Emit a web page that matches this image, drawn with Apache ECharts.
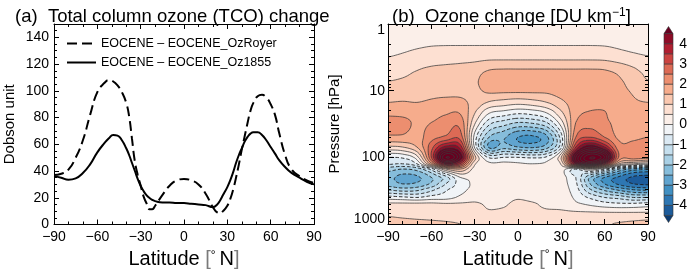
<!DOCTYPE html>
<html><head><meta charset="utf-8"><title>Ozone change</title>
<script src="https://cdn.jsdelivr.net/npm/echarts@6.0.0/dist/echarts.min.js"></script>
<style>html,body{margin:0;padding:0;background:#fff;overflow:hidden}#chart{width:698px;height:275px}</style>
</head><body><div id="chart"></div>
<script>
// ---------------- Panel (a) data: total column ozone change ----------------
const TCO_LAT = [-90,-85,-80,-75,-70,-65,-60,-55,-52,-49,-46,-43,-40,-38,-36,-34,-32,-30,-28,-26,-24,-22,-20,-15,-10,-5,0,5,10,15,20,23,25,27,30,32,34,36,38,40,42,44,46,48,51,54,57,60,63,66,70,74,80,85,90];
const TCO_ROYER = [37,38,41,50,63,82,99,106,108,107,104,99,91,81,64,47,37,29,21,16,11.5,11.5,14,22,29,33,34,33,30,23,13,9,8.5,10,14,19,26,35,45,56,66,76,85,91,96,97,95,90,82,68,52,42,36,33,31];
const TCO_1855 = [36,35,33.5,34.5,38.5,45,54,61,64.5,67,66.5,63,57,52,46,40,34,29,25,22,20,18.5,17.5,16.5,16.5,16,16,15.5,15,14.5,13,15,18,22,28,33,39,46,52,57,62,65.5,68,69,69,67,63,58,53,48,43,39,35,32,30];
const NAME_ROYER = 'EOCENE \u2013 EOCENE_OzRoyer';
const NAME_1855 = 'EOCENE \u2013 EOCENE_Oz1855';

// ---------------- Panel (b) data: ozone change [DU/km] ----------------
const LAT = [-90,-80,-70,-60,-50,-40,-30,-20,-10,0,10,20,30,40,50,60,70,80,90];
const PLEV = [1,2,3,5,7,10,15,20,30,50,70,100,125,150,200,250,300,400,500,700,850,1000];
const O3 = [
 [0.25,0.27,0.3,0.3,0.3,0.3,0.3,0.3,0.3,0.3,0.3,0.3,0.3,0.3,0.3,0.3,0.3,0.27,0.25],
 [0.33,0.37,0.42,0.46,0.47,0.47,0.47,0.47,0.47,0.47,0.47,0.47,0.47,0.47,0.47,0.46,0.42,0.37,0.33],
 [0.48,0.55,0.65,0.72,0.75,0.77,0.78,0.8,0.8,0.8,0.8,0.8,0.8,0.8,0.8,0.78,0.68,0.58,0.5],
 [0.78,0.85,1.0,1.1,1.15,1.2,1.3,1.52,1.56,1.56,1.56,1.56,1.56,1.56,1.56,1.53,1.35,1.1,0.85],
 [0.98,1.05,1.15,1.25,1.3,1.35,1.45,1.65,1.7,1.7,1.7,1.7,1.75,1.75,1.75,1.7,1.55,1.3,1.0],
 [1.25,1.3,1.35,1.4,1.4,1.4,1.4,1.6,1.6,1.6,1.6,1.6,1.7,1.7,1.75,1.7,1.6,1.45,1.3],
 [1.5,1.52,1.5,1.55,1.6,1.6,1.35,0.95,0.8,0.7,0.8,1.0,1.4,1.7,1.8,1.8,1.7,1.55,1.5],
 [1.7,1.7,1.7,1.8,1.9,1.9,1.1,0.2,0.0,-0.2,-0.1,0.2,1.0,1.8,2.0,2.0,1.75,1.7,1.7],
 [2.3,2.2,1.9,2.0,2.2,2.3,0.6,-0.8,-1.2,-1.5,-1.4,-1.0,0.3,2.0,2.3,2.1,1.85,1.8,1.85],
 [1.9,1.9,1.8,2.3,2.6,2.8,-0.2,-2.0,-2.4,-3.0,-3.1,-2.6,-0.7,2.5,3.0,2.5,1.9,1.9,2.0],
 [0.9,1.0,1.5,2.8,4.2,3.8,-0.1,-2.6,-2.2,-2.5,-2.6,-2.2,-0.6,3.5,5.0,4.0,2.2,2.2,2.4],
 [-0.5,-0.4,0.3,3.0,6.5,5.0,1.2,-0.6,-0.5,-0.5,-0.6,-0.4,1.0,5.5,7.5,6.5,2.4,2.3,2.2],
 [-0.9,-1.0,-0.5,1.8,4.5,3.5,0.6,0.1,0.1,0.05,0.0,0.1,0.6,4.5,6.0,4.0,1.0,0.5,0.2],
 [-1.8,-2.0,-1.8,-0.8,1.0,1.5,0.3,0.2,0.2,0.2,0.2,0.2,0.2,-0.5,0.5,-0.5,-2.0,-2.7,-2.9],
 [-2.3,-2.7,-2.6,-2.0,-1.2,0.0,0.1,0.2,0.2,0.2,0.2,0.2,0.15,-0.5,-2.0,-3.0,-3.6,-4.1,-4.2],
 [-2.2,-2.5,-2.4,-1.9,-1.0,-0.3,0.1,0.2,0.2,0.2,0.2,0.2,0.15,-0.4,-2.0,-3.0,-3.6,-4.0,-4.1],
 [-1.6,-1.8,-1.7,-1.2,-0.6,-0.2,0.15,0.2,0.2,0.25,0.2,0.2,0.2,-0.3,-1.5,-2.2,-2.7,-3.1,-3.2],
 [-0.3,-0.4,-0.5,-0.3,-0.2,0.1,0.35,0.3,0.35,0.45,0.35,0.3,0.3,-0.1,-0.6,-1.0,-1.2,-1.5,-1.5],
 [0.6,0.6,0.6,0.6,0.55,0.55,0.55,0.45,0.45,0.6,0.55,0.4,0.35,0.1,-0.1,-0.3,-0.4,-0.4,-0.3],
 [0.9,0.85,0.8,0.75,0.7,0.65,0.6,0.55,0.6,0.65,0.6,0.6,0.6,0.6,0.6,0.6,0.6,0.6,0.6],
 [1.1,1.05,1.0,0.95,0.9,0.85,0.8,0.8,0.8,0.8,0.8,0.75,0.75,0.75,0.8,0.85,0.85,0.9,0.95],
 [1.4,1.35,1.3,1.2,1.1,1.0,0.9,0.8,0.85,0.9,0.85,0.8,0.8,0.8,0.9,0.95,1.05,1.15,1.25]
];
// colour classes (boundaries) and contour levels
const BOUNDS = [-4.5,-4,-3.5,-3,-2.5,-2,-1.5,-1,-0.5,0,0.5,1,1.5,2,2.5,3,3.5,4,4.5];
const COLORS = ['#0c3c72','#1d5c9b','#2e77b3','#4190c2','#60a4cf','#86bddb','#a9d0e5','#c5dfee','#dbe9f3','#f1f4f7',
                '#fbefe9','#fde0d2','#fac8b0','#f6ac8c','#ec8e6f','#dc6a55','#cb4340','#b01e30','#8e0c27','#680020'];
const CLEVELS = [-5,-4.5,-4,-3.5,-3,-2.5,-2,-1.5,-1,-0.5,0,0.5,1,1.5,2,2.5,3,3.5,4,4.5,5,5.5,6,6.5,7,7.5];
const CB_LABELS = [-4,-3,-2,-1,0,1,2,3,4];
const P_MINOR = [2,3,4,5,6,7,8,9,20,30,40,50,60,70,80,90,200,300,400,500,600,700,800,900];

// ---------------- helpers ----------------
const FONT = '"Liberation Sans", Arial, Helvetica, sans-serif';
const NLAT = LAT.length, NP = PLEV.length;
const LOGP = PLEV.map(Math.log10);
function minus(v){ return String(v).replace('-', '\u2212'); }
function gv(i,j){ i=Math.max(0,Math.min(NLAT-1,i)); j=Math.max(0,Math.min(NP-1,j)); return O3[j][i]; }
function cr(p0,p1,p2,p3,t){ return 0.5*(2*p1+(-p0+p2)*t+(2*p0-5*p1+4*p2-p3)*t*t+(-p0+3*p1-3*p2+p3)*t*t*t); }
function field(fi,fj){
  const i0=Math.min(NLAT-2,Math.max(0,Math.floor(fi))), j0=Math.min(NP-2,Math.max(0,Math.floor(fj)));
  const tx=fi-i0, ty=fj-j0, r=[];
  for(let m=-1;m<=2;m++){ const j=j0+m; r.push(cr(gv(i0-1,j),gv(i0,j),gv(i0+1,j),gv(i0+2,j),tx)); }
  return cr(r[0],r[1],r[2],r[3],ty);
}
function idxToData(fi,fj){
  const i0=Math.min(NLAT-2,Math.max(0,Math.floor(fi))), j0=Math.min(NP-2,Math.max(0,Math.floor(fj)));
  const tx=fi-i0, ty=fj-j0;
  return [LAT[i0]+tx*(LAT[i0+1]-LAT[i0]), Math.pow(10, LOGP[j0]+ty*(LOGP[j0+1]-LOGP[j0]))];
}
function colorOf(v){ let k=0; while(k<BOUNDS.length && v>=BOUNDS[k]) k++; return COLORS[k]; }

// filled field: one item per grid cell
const CELLS = [];
for(let j=0;j<NP-1;j++) for(let i=0;i<NLAT-1;i++) CELLS.push([LAT[i],LAT[i+1],PLEV[j],PLEV[j+1],i,j]);
function renderFill(params, api){
  const i=api.value(4), j=api.value(5);
  const a=api.coord([LAT[i],PLEV[j]]), b=api.coord([LAT[i+1],PLEV[j+1]]);
  const x0=Math.round(a[0]), x1=Math.round(b[0]);
  const y0=Math.round(Math.min(a[1],b[1])), y1=Math.round(Math.max(a[1],b[1]));
  const ch=[];
  const R=(x,y,w,c)=>({type:'rect',shape:{x:x,y:y,width:w,height:1},style:{fill:c}});
  for(let py=y0;py<y1;py++){
    const fy=(py+0.5-a[1])/(b[1]-a[1]);
    let start=x0, col=null;
    for(let px=x0;px<x1;px++){
      const fx=(px+0.5-a[0])/(b[0]-a[0]);
      const c=colorOf(field(i+fx,j+fy));
      if(c!==col){ if(col!==null) ch.push(R(start,py,px-start,col)); col=c; start=px; }
    }
    if(col!==null) ch.push(R(start,py,x1-start,col));
  }
  return {type:'group',children:ch};
}

// contour lines: marching squares on a refined sampling of the grid
const SUB=6; let FINE=null;
function fineGrid(){
  if(FINE) return FINE;
  const nx=(NLAT-1)*SUB+1, ny=(NP-1)*SUB+1; FINE=[];
  for(let b=0;b<ny;b++){ const row=[]; for(let a=0;a<nx;a++) row.push(field(a/SUB,b/SUB)); FINE.push(row); }
  return FINE;
}
function chains(level){
  const F=fineGrid(), ny=F.length, nx=F[0].length, segs=[], ends={};
  function add(e1,e2){ const id=segs.length; segs.push({k:[e1[0],e2[0]],p:[e1[1],e2[1]],u:false});
    (ends[e1[0]]=ends[e1[0]]||[]).push(id); (ends[e2[0]]=ends[e2[0]]||[]).push(id); }
  for(let b=0;b<ny-1;b++) for(let a=0;a<nx-1;a++){
    const v0=F[b][a], v1=F[b][a+1], v2=F[b+1][a+1], v3=F[b+1][a];
    const s0=v0>level, s1=v1>level, s2=v2>level, s3=v3>level;
    if(s0===s1&&s1===s2&&s2===s3) continue;
    const E={};
    if(s0!==s1) E.T=['h'+b+'_'+a,[a+(level-v0)/(v1-v0),b]];
    if(s1!==s2) E.R=['v'+b+'_'+(a+1),[a+1,b+(level-v1)/(v2-v1)]];
    if(s3!==s2) E.B=['h'+(b+1)+'_'+a,[a+(level-v3)/(v2-v3),b+1]];
    if(s0!==s3) E.L=['v'+b+'_'+a,[a,b+(level-v0)/(v3-v0)]];
    const ks=Object.keys(E);
    if(ks.length===2) add(E[ks[0]],E[ks[1]]);
    else if(ks.length===4){ const c=(v0+v1+v2+v3)/4>level;
      if(c===s0){ add(E.T,E.R); add(E.B,E.L); } else { add(E.L,E.T); add(E.R,E.B); } }
  }
  const out=[];
  for(const s of segs){
    if(s.u) continue; s.u=true;
    const pts=[s.p[0],s.p[1]];
    let k=s.k[1];
    for(;;){ const n=(ends[k]||[]).find(id=>!segs[id].u); if(n===undefined) break; const t=segs[n]; t.u=true;
      if(t.k[0]===k){ pts.push(t.p[1]); k=t.k[1]; } else { pts.push(t.p[0]); k=t.k[0]; } }
    k=s.k[0];
    for(;;){ const n=(ends[k]||[]).find(id=>!segs[id].u); if(n===undefined) break; const t=segs[n]; t.u=true;
      if(t.k[0]===k){ pts.unshift(t.p[1]); k=t.k[1]; } else { pts.unshift(t.p[0]); k=t.k[0]; } }
    out.push(pts);
  }
  return out;
}
function renderContour(params, api){
  const level=api.value(4);
  const ch=chains(level).map(pts=>({type:'polyline',
    shape:{points:pts.map(p=>api.coord(idxToData(p[0]/SUB,p[1]/SUB)))},
    style:{stroke: level<0?'#1e1e1e':'#3a3a3a', lineWidth: level<0?0.9:0.75, fill:'none', lineDash: level<0?[3.5,2]:null}}));
  return {type:'group',children:ch};
}

// colour bar
const TRI = 0.35;
const CB = COLORS.map((c,k)=>[0,1,k===0?BOUNDS[0]-TRI:BOUNDS[k-1],k===COLORS.length-1?BOUNDS[BOUNDS.length-1]+TRI:BOUNDS[k],k]);
function renderCB(params, api){
  const lo=api.value(2), hi=api.value(3), k=api.value(4);
  const st={fill:COLORS[k],stroke:'#333',lineWidth:0.6};
  if(k===0){ return {type:'polygon',shape:{points:[api.coord([0,hi]),api.coord([1,hi]),api.coord([0.5,lo])]},style:st}; }
  if(k===COLORS.length-1){ return {type:'polygon',shape:{points:[api.coord([0,lo]),api.coord([1,lo]),api.coord([0.5,hi])]},style:st}; }
  const a=api.coord([0,hi]), b=api.coord([1,lo]);
  return {type:'rect',shape:{x:a[0],y:a[1],width:b[0]-a[0],height:b[1]-a[1]},style:st};
}

// ---------------- chart ----------------
const txt = {color:'#000',fontFamily:FONT};
const line = {show:true,onZero:false,lineStyle:{color:'#000',width:1}};
const tick = (len,extra)=>Object.assign({show:true,inside:true,length:len,lineStyle:{color:'#000',width:1}},extra||{});
const latName = 'Latitude {g|[}{d|\u00b0}\u2009N{g|]}';
const latRich = {g:{color:'#7a7a7a',fontSize:20,fontFamily:FONT},d:{color:'#000',fontSize:12,fontFamily:FONT,padding:[0,0,9,0]}};
function latAxis(grid,pos,labels){
  const ax={gridIndex:grid,type:'value',min:-90,max:90,interval:30,position:pos,z:5,
    axisLine:line,axisTick:tick(5),minorTick:{show:true,splitNumber:3,length:3,lineStyle:{color:'#000'}},
    splitLine:{show:false},axisLabel:{show:labels,fontSize:14,margin:6,formatter:minus,...txt}};
  if(labels){ Object.assign(ax,{name:latName,nameLocation:'middle',nameGap:23,nameTextStyle:{fontSize:20,...txt,rich:latRich}}); }
  return ax;
}
function pAxis(pos,labels,minor){
  const ax={gridIndex:1,type:'log',logBase:10,min:1,max:1000,inverse:true,position:pos,z:5,
    axisLine:{...line,show:!minor},axisTick:minor?tick(3,{customValues:P_MINOR}):tick(6),
    splitLine:{show:false},axisLabel:{show:labels,fontSize:14,margin:3,...txt,
      formatter:v=>v===1?'{t|1}':(v===1000?'{b|1000}':String(v)),
      rich:{t:{fontSize:14,...txt,padding:[13,0,0,0]},b:{fontSize:14,...txt,padding:[0,0,10,0]}}}};
  if(labels){ Object.assign(ax,{name:'Pressure [hPa]',nameLocation:'middle',nameGap:46,nameTextStyle:{fontSize:15,...txt}}); }
  return ax;
}
const option = {
  animation:false,
  backgroundColor:'#fff',
  title:[
    {text:'(a)  Total column ozone (TCO) change',left:10,top:2,textStyle:{fontSize:18.5,fontWeight:'normal',...txt}},
    {text:'(b)  Ozone change [DU km{s|\u22121}]',left:387,top:2,textStyle:{fontSize:18.5,fontWeight:'normal',...txt,
      rich:{s:{fontSize:12,...txt,padding:[0,0,8,0]}}}}
  ],
  legend:{left:61,top:32,orient:'vertical',itemWidth:29,itemHeight:14,itemGap:6,
    itemStyle:{opacity:0},
    data:[NAME_ROYER,NAME_1855],textStyle:{fontSize:12.5,...txt}},
  grid:[
    {left:54,top:24,width:260,height:200.5,outerBoundsMode:'none'},
    {left:388,top:24,width:260,height:200,outerBoundsMode:'none'},
    {left:664,top:23.5,width:9,height:202,outerBoundsMode:'none'}
  ],
  xAxis:[
    latAxis(0,'bottom',true), latAxis(0,'top',false),
    latAxis(1,'bottom',true), latAxis(1,'top',false),
    {gridIndex:2,type:'value',min:0,max:1,show:false}
  ],
  yAxis:[
    {gridIndex:0,type:'value',min:0,max:150,interval:20,position:'left',z:5,axisLine:line,axisTick:tick(5),
      minorTick:{show:true,splitNumber:4,length:3,lineStyle:{color:'#000'}},splitLine:{show:false},
      axisLabel:{fontSize:14,margin:5,showMaxLabel:false,...txt},
      name:'Dobson unit',nameLocation:'middle',nameGap:37,nameTextStyle:{fontSize:15,...txt}},
    {gridIndex:0,type:'value',min:0,max:150,interval:20,position:'right',z:5,axisLine:line,axisTick:tick(5),
      minorTick:{show:true,splitNumber:4,length:3,lineStyle:{color:'#000'}},splitLine:{show:false},axisLabel:{show:false}},
    pAxis('left',true,false), pAxis('left',false,true), pAxis('right',false,false), pAxis('right',false,true),
    {gridIndex:2,type:'value',min:-5,max:5,interval:1,position:'right',axisLine:{show:false},axisTick:{show:false},
      splitLine:{show:false},axisLabel:{fontSize:14,margin:14,align:'right',...txt,
      formatter:v=>CB_LABELS.indexOf(v)>=0?minus(v):''}}
  ],
  series:[
    {name:NAME_ROYER,type:'line',xAxisIndex:0,yAxisIndex:0,smooth:true,symbol:'none',
      data:TCO_LAT.map((x,k)=>[x,TCO_ROYER[k]]),lineStyle:{color:'#000',width:2,type:[10,5]},itemStyle:{color:'#000'}},
    {name:NAME_1855,type:'line',xAxisIndex:0,yAxisIndex:0,smooth:true,symbol:'none',
      data:TCO_LAT.map((x,k)=>[x,TCO_1855[k]]),lineStyle:{color:'#000',width:2},itemStyle:{color:'#000'}},
    {type:'custom',xAxisIndex:2,yAxisIndex:2,silent:true,z:1,data:CELLS,encode:{x:[0,1],y:[2,3]},renderItem:renderFill},
    {type:'custom',xAxisIndex:2,yAxisIndex:2,silent:true,z:2,data:CLEVELS.map(l=>[-90,90,1,1000,l]),encode:{x:[0,1],y:[2,3]},renderItem:renderContour},
    {type:'custom',xAxisIndex:4,yAxisIndex:6,silent:true,z:2,data:CB,encode:{x:[0,1],y:[2,3]},renderItem:renderCB}
  ]
};
const chart = echarts.init(document.getElementById('chart'));
chart.setOption(option);
</script>
</body></html>
